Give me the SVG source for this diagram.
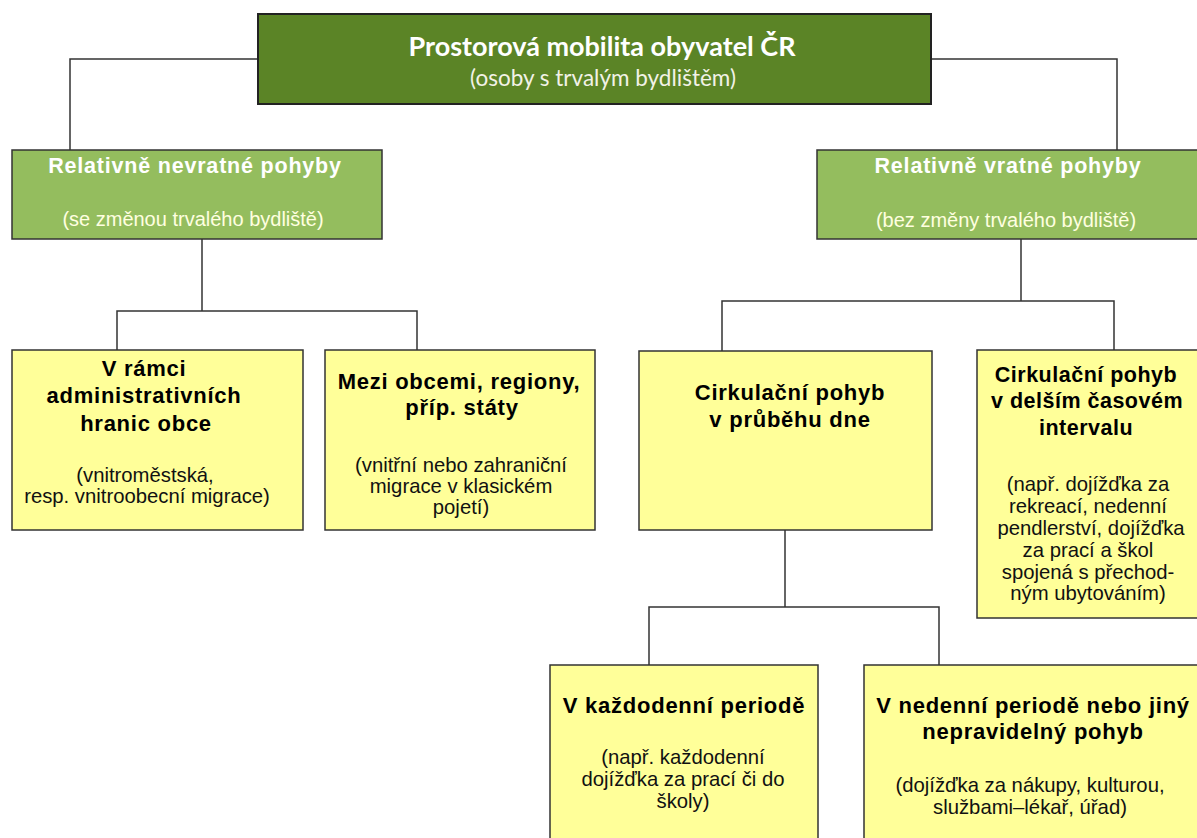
<svg xmlns="http://www.w3.org/2000/svg" width="1197" height="838" viewBox="0 0 1197 838">
<style>
  .conn { fill: none; stroke: #333333; stroke-width: 1.5; }
  .top { fill: #5B8426; stroke: #222222; stroke-width: 2; }
  .grn { fill: #94BD5E; stroke: #333333; stroke-width: 1.5; }
  .yel { fill: #FFFF99; stroke: #333333; stroke-width: 1.5; }
  .t-title { font-family: Lato, "Open Sans", sans-serif; font-weight: bold; font-size: 27px; fill: #FFFFFF; text-anchor: middle; }
  .t-sub { font-family: Lato, "Open Sans", sans-serif; font-size: 22.5px; fill: #F2F2E6; text-anchor: middle; }
  .g-h { font-family: "Liberation Sans", Arial, sans-serif; font-weight: bold; font-size: 21.5px; letter-spacing: 0.8px; fill: #FFFFFF; text-anchor: middle; }
  .g-s { font-family: "Liberation Sans", Arial, sans-serif; font-size: 20px; fill: #FFFFE0; text-anchor: middle; }
  .y-h { font-family: "Liberation Sans", Arial, sans-serif; font-weight: bold; font-size: 22px; letter-spacing: 0.75px; fill: #000000; text-anchor: middle; }
  .y-s { font-family: "Liberation Sans", Arial, sans-serif; font-size: 20.3px; fill: #111111; text-anchor: middle; }
</style>
<rect width="1197" height="838" fill="#FFFFFF"/>
<g id="connectors">
  <polyline class="conn" points="258,59 70,59 70,150"/>
  <polyline class="conn" points="931,59 1117,59 1117,150"/>
  <line class="conn" x1="202" y1="239" x2="202" y2="311"/>
  <polyline class="conn" points="117,350 117,311 417,311 417,350"/>
  <line class="conn" x1="1021" y1="239" x2="1021" y2="301"/>
  <polyline class="conn" points="722,351 722,301 1114,301 1114,350"/>
  <line class="conn" x1="785" y1="530" x2="785" y2="607"/>
  <polyline class="conn" points="649,665 649,607 939,607 939,665"/>
</g>
<g id="root">
  <rect class="top" x="258" y="14" width="673" height="90"/>
  <text class="t-title" x="602" y="56">Prostorová mobilita obyvatel ČR</text>
  <text class="t-sub" x="603" y="86">(osoby s trvalým bydlištěm)</text>
</g>
<g id="nevratne">
  <rect class="grn" x="12" y="150" width="370" height="89"/>
  <text class="g-h" x="195" y="173">Relativně nevratné pohyby</text>
  <text class="g-s" x="193" y="226">(se změnou trvalého bydliště)</text>
</g>
<g id="vratne">
  <rect class="grn" x="817" y="150" width="390" height="89"/>
  <text class="g-h" x="1008" y="173">Relativně vratné pohyby</text>
  <text class="g-s" x="1006" y="227">(bez změny trvalého bydliště)</text>
</g>
<g id="obec">
  <rect class="yel" x="12" y="350" width="291" height="180"/>
  <text class="y-h" x="144" y="376">V rámci</text>
  <text class="y-h" x="144" y="403">administrativních</text>
  <text class="y-h" x="146" y="431">hranic obce</text>
  <text class="y-s" x="145" y="482">(vnitroměstská,</text>
  <text class="y-s" x="147" y="503">resp. vnitroobecní migrace)</text>
</g>
<g id="mezi">
  <rect class="yel" x="325" y="350" width="270" height="180"/>
  <text class="y-h" x="459" y="389">Mezi obcemi, regiony,</text>
  <text class="y-h" x="462" y="415">příp. státy</text>
  <text class="y-s" x="461" y="472">(vnitřní nebo zahraniční</text>
  <text class="y-s" x="461" y="493">migrace v klasickém</text>
  <text class="y-s" x="461" y="514">pojetí)</text>
</g>
<g id="den">
  <rect class="yel" x="639" y="351" width="293" height="179"/>
  <text class="y-h" x="790" y="400">Cirkulační pohyb</text>
  <text class="y-h" x="790" y="427">v průběhu dne</text>
</g>
<g id="delsi">
  <rect class="yel" x="977" y="350" width="230" height="268"/>
  <text class="y-h" x="1086" y="382" style="font-size:21.5px;letter-spacing:0.5px">Cirkulační pohyb</text>
  <text class="y-h" x="1087" y="408" style="font-size:21.5px;letter-spacing:0.5px">v delším časovém</text>
  <text class="y-h" x="1086" y="435" style="font-size:21.5px;letter-spacing:0.5px">intervalu</text>
  <text class="y-s" x="1088" y="491">(např. dojížďka za</text>
  <text class="y-s" x="1088" y="513">rekreací, nedenní</text>
  <text class="y-s" x="1091" y="535">pendlerství, dojížďka</text>
  <text class="y-s" x="1088" y="557">za prací a škol</text>
  <text class="y-s" x="1088" y="579">spojená s přechod-</text>
  <text class="y-s" x="1088" y="600">ným ubytováním)</text>
</g>
<g id="kazdodenni">
  <rect class="yel" x="550" y="665" width="268" height="190"/>
  <text class="y-h" x="684" y="713">V každodenní periodě</text>
  <text class="y-s" x="683" y="764">(např. každodenní</text>
  <text class="y-s" x="683" y="786">dojížďka za prací či do</text>
  <text class="y-s" x="683" y="808">školy)</text>
</g>
<g id="nedenni">
  <rect class="yel" x="864" y="665" width="345" height="190"/>
  <text class="y-h" x="1033" y="713">V nedenní periodě nebo jiný</text>
  <text class="y-h" x="1033" y="739">nepravidelný pohyb</text>
  <text class="y-s" x="1030" y="792">(dojížďka za nákupy, kulturou,</text>
  <text class="y-s" x="1030" y="814">službami–lékař, úřad)</text>
</g>
</svg>
